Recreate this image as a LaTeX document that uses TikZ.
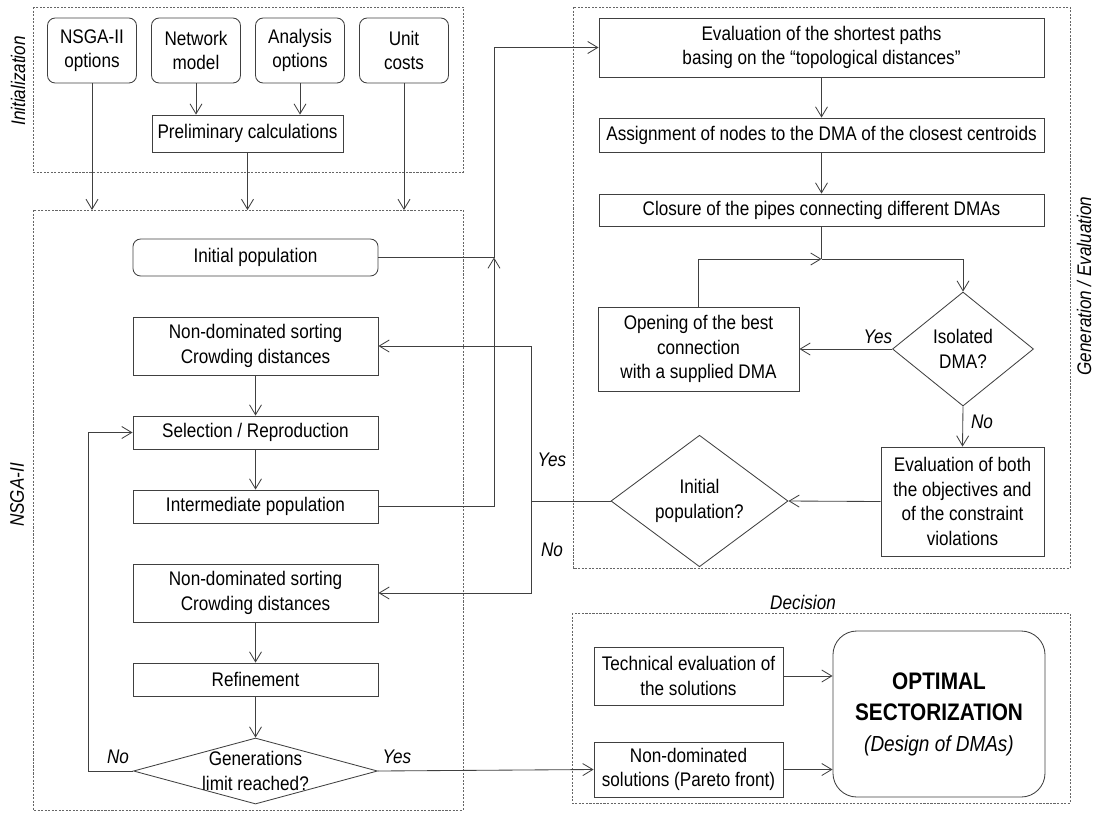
\documentclass[tikz,border=0pt]{standalone}
\usepackage{fontspec}
\setmainfont[FakeStretch=0.87]{Liberation Sans}
\usetikzlibrary{shapes.geometric}
\usetikzlibrary{arrows.meta}

\begin{document}
\begin{tikzpicture}[x=0.025cm,y=-0.025cm,color=black!75,line width=0.6pt,
>={Straight Barb[length=2.5mm,width=3mm]},
every node/.style={text=black,font=\fontsize{14}{17.5}\selectfont},
procblock/.style={draw,rectangle,inner sep=1pt,align=center},
roundblock/.style={procblock,rounded corners=5.5pt},
testblock/.style={draw,diamond,inner sep=0pt,align=center},
frame/.style={draw=black!60,line width=0.5pt,dash pattern=on 1.5pt off 1pt},
lbl/.style={font=\fontsize{14}{17.5}\selectfont\itshape}]

\useasboundingbox (0,0) rectangle (1094,812);

% dashed frames
\draw[frame] (33,7) rectangle (463,172);
\draw[frame] (33,210) rectangle (463,810);
\draw[frame] (573,7) rectangle (1070,568);
\draw[frame] (572,613) rectangle (1070,803);
\node[lbl,rotate=90] (initlbl) at (18,81) {Initialization};
\node[lbl,rotate=90] (nsgalbl) at (17,495) {NSGA-II};
\node[lbl,rotate=90] (genlbl) at (1084,286) {Generation / Evaluation};
\node[lbl] (declbl) at (803,602) {Decision};

% initialization
\node[roundblock,minimum width=2.225cm,minimum height=1.625cm] (opt) at (92,50.5) {NSGA-II\\options};
\node[roundblock,minimum width=2.225cm,minimum height=1.625cm] (net) at (196,50.5) {Network\\model};
\node[roundblock,minimum width=2.225cm,minimum height=1.625cm] (ana) at (300,50.5) {Analysis\\options};
\node[roundblock,minimum width=2.225cm,minimum height=1.625cm] (cost) at (404,50.5) {Unit\\costs};
\node[procblock,minimum width=4.775cm,minimum height=0.925cm] (prelim) at (247.5,133.5) {Preliminary calculations};
\coordinate (nsgatop) at (255,210);

\draw[->] (net) -- (net |- prelim.north);
\draw[->] (ana) -- (ana |- prelim.north);
\draw[->] (opt) -- (opt |- nsgatop);
\draw[->] (prelim) -- (prelim |- nsgatop);
\draw[->] (cost) -- (cost |- nsgatop);

% NSGA-II
\node[roundblock,minimum width=6.125cm,minimum height=0.925cm] (initpop) at (255.5,257.5) {Initial population};
\node[procblock,minimum width=6.125cm,minimum height=1.45cm] (nds1) at (255.5,346) {Non-dominated sorting\\Crowding distances};
\node[procblock,minimum width=6.125cm,minimum height=0.825cm] (sel) at (255.5,432.5) {Selection / Reproduction};
\node[procblock,minimum width=6.125cm,minimum height=0.825cm] (inter) at (255.5,506.5) {Intermediate population};
\node[procblock,minimum width=6.125cm,minimum height=1.45cm] (nds2) at (255.5,593) {Non-dominated sorting\\Crowding distances};
\node[procblock,minimum width=6.125cm,minimum height=0.825cm] (refine) at (255.5,679.5) {Refinement};
\node[testblock,minimum width=6.1cm,minimum height=1.65cm,
  label={[align=center]center:Generations\\limit reached?}] (gen) at (255.5,771) {};

\draw[->] (nds1) -- (sel);
\draw[->] (sel) -- (inter);
\draw[->] (nds2) -- (refine);
\draw[->] (refine) -- (gen);
\coordinate (loop) at (88,771);
\draw[->] (gen.west) -- (loop) |- (sel.west);
\node[lbl] (genno) at (118,757) {No};
\node[lbl] (genyes) at (397,757) {Yes};

% generation / evaluation
\node[procblock,minimum width=11.125cm,minimum height=1.475cm] (eval) at (821.5,47.5) {Evaluation of the shortest paths\\basing on the “topological distances”};
\node[procblock,minimum width=11.125cm,minimum height=0.85cm] (assign) at (821.5,135) {Assignment of nodes to the DMA of the closest centroids};
\node[procblock,minimum width=11.125cm,minimum height=0.8cm] (closure) at (821.5,210) {Closure of the pipes connecting different DMAs};
\node[procblock,minimum width=5.025cm,minimum height=2.1cm] (open) at (698.5,349) {Opening of the best\\connection\\with a supplied DMA};
\node[testblock,minimum width=3.525cm,minimum height=2.85cm] (iso) at (963,349) {Isolated\\DMA?};
\node[procblock,minimum width=4.075cm,minimum height=2.725cm] (evalboth) at (962.5,501.5) {Evaluation of both\\the objectives and\\of the constraint\\violations};
\node[testblock,minimum width=4.425cm,minimum height=2.9cm] (ipop) at (699.5,501) {Initial\\population?};

\draw[->] (eval) -- (assign);
\draw[->] (assign) -- (closure);
\coordinate (merge) at (821.5,259);
\draw (closure) -- (merge);
\draw[->] (open.north) |- (merge);
\draw[->] (merge) -| (iso.north);
\draw[->] (iso.west) -- (open.east);
\draw[->] (iso.south) -- (evalboth.north);
\draw[->] (evalboth.west) -- (ipop.east);
\node[lbl] (isoyes) at (878,337) {Yes};
\node[lbl] (isono) at (982,422) {No};

% links between NSGA-II and evaluation
\coordinate (j1) at (494,257.5);
\draw[->] (initpop.east) -- (j1) |- (eval.west);
\draw[->] (inter.east) -| (j1);
\coordinate (j2) at (531,501);
\draw (ipop.west) -- (j2);
\draw[->] (j2) |- (nds1.east);
\draw[->] (j2) |- (nds2.east);
\node[lbl] (ipopyes) at (552,460) {Yes};
\node[lbl] (ipopno) at (552,550) {No};

% decision
\node[procblock,minimum width=4.725cm,minimum height=1.45cm] (tech) at (688.5,676) {Technical evaluation of\\the solutions};
\node[procblock,minimum width=4.725cm,minimum height=1.375cm] (nondom) at (688.5,769.5) {Non-dominated\\solutions (Pareto front)};
\node[procblock,rounded corners=17pt,minimum width=5.3cm,minimum height=4.15cm,
  font=\fontsize{17}{22}\selectfont\bfseries] (optimal) at (939,714)
  {OPTIMAL\\SECTORIZATION\\{\mdseries\itshape\fontsize{15.5}{22}\selectfont (Design of DMAs)}};

\draw[->] (gen.east) -- (nondom.west);
\draw[->] (tech.east) -- (optimal.west |- tech);
\draw[->] (nondom.east) -- (optimal.west |- nondom);

\end{tikzpicture}
\end{document}
